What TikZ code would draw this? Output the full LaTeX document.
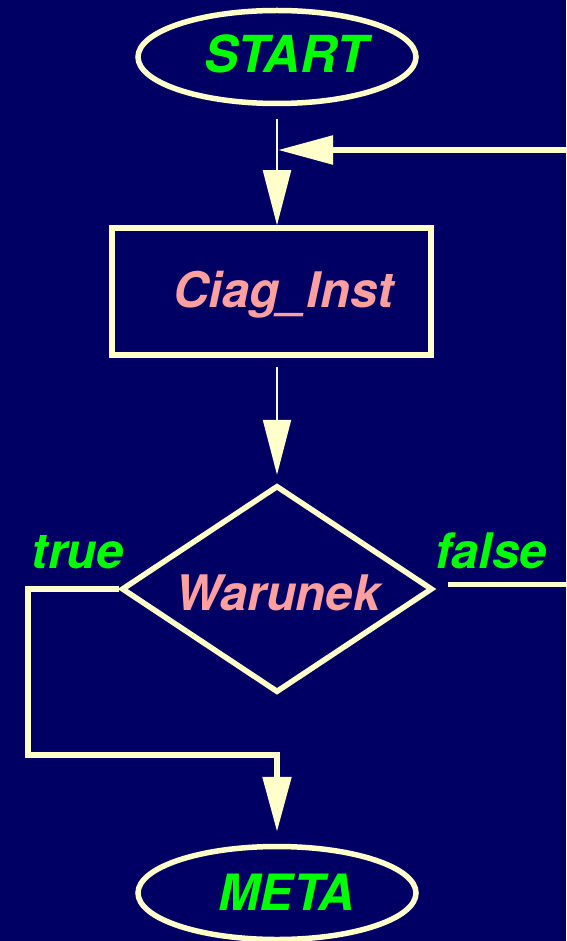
\documentclass[tikz,border=0pt]{standalone}
\usepackage{fontspec}
\setmainfont{TeX Gyre Heros}
\usetikzlibrary{shapes.geometric,arrows.meta}
\definecolor{bgblue}{RGB}{0,0,100}
\definecolor{cream}{RGB}{255,255,204}
\definecolor{lgreen}{RGB}{0,255,0}
\definecolor{lpink}{RGB}{255,160,160}
\begin{document}
\begin{tikzpicture}[x=1pt,y=-1pt,
  outline/.style={draw=cream,line width=5.5pt,inner sep=0pt},
  term/.style={outline,ellipse,minimum width=278pt,minimum height=93pt},
  procbox/.style={outline,rectangle,minimum width=319pt,minimum height=127pt},
  decision/.style={outline,diamond,minimum width=311pt,minimum height=207pt},
  txt/.style={font=\fontsize{49}{58}\selectfont\bfseries\itshape,inner sep=0pt,anchor=base},
  gtxt/.style={txt,text=lgreen},
  ptxt/.style={txt,text=lpink},
  thinarrow/.style={draw=cream,line width=2.2pt,-{Triangle[length=55pt,width=28pt]}},
  thickarrow/.style={draw=cream,line width=5.5pt,-{Triangle[length=55pt,width=28pt]}},
  thickline/.style={draw=cream,line width=5.5pt}
]
\fill[bgblue] (0,0) rectangle (566,941);
\useasboundingbox (0,0) rectangle (566,941);

\node[term] (start) at (277,57) {};
\node[gtxt,font=\fontsize{51}{60}\selectfont\bfseries\itshape] (starttxt) at (286,73) {START};

\node[procbox] (rect) at (271.5,291.5) {};
\node[ptxt] (recttxt) at (283.5,307) {Ciag\_Inst};

\node[decision] (dec) at (277,589) {};
\node[ptxt] (dectxt) at (278,610) {Warunek};

\node[gtxt] (truetxt) at (78,568) {true};
\node[gtxt] (falsetxt) at (491,568) {false};

\node[term] (meta) at (277,893) {};
\node[gtxt,font=\fontsize{50}{60}\selectfont\bfseries\itshape] (metatxt) at (286.5,910) {META};

\coordinate (loopstart) at (566,150);
\coordinate (loopend) at (278,150);
\coordinate (tleft) at (28,755);
\coordinate (tright) at (277,755);
\coordinate (falseend) at (566,584.5);

% START -> Ciag_Inst
\draw[thinarrow] ([yshift=-13pt]start.south) -- (start.south |- rect.north);
% loop back arrow
\draw[thickarrow] (loopstart) -- (loopend);
% Ciag_Inst -> Warunek
\draw[thinarrow] ([xshift=5.5pt,yshift=-9pt]rect.south) -- ([yshift=8pt]dec.north);
% true branch
\draw[thickline,line join=miter] (dec.west) -| (tleft) -- (tright);
\draw[thickarrow] ([yshift=2.75pt]tright) -- ([yshift=12pt]meta.north);
% false branch
\draw[thickline] ([xshift=13pt,yshift=4.5pt]dec.east) -- (falseend);
\end{tikzpicture}
\end{document}
